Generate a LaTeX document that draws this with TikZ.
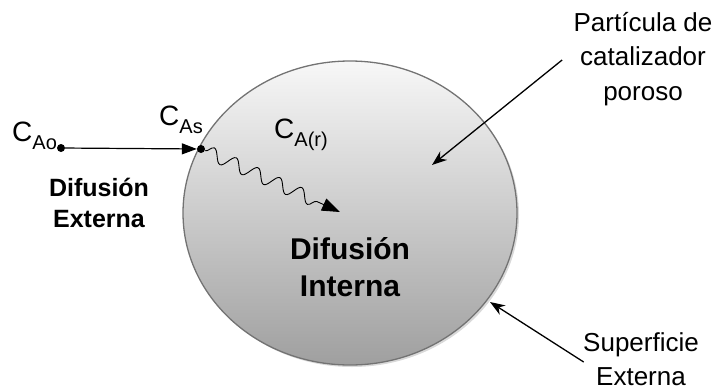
\documentclass[tikz,border=0pt]{standalone}
\usepackage{fontspec}
\setmainfont{Liberation Sans}
\usetikzlibrary{arrows.meta,calc,shapes.geometric,shadows,decorations.pathmorphing}
\tikzset{ptr/.style={-{Stealth[length=15pt,width=11pt]}, line width=1.3pt},
  flow/.style={-{Triangle[length=15pt,width=11pt]}, line width=1.2pt},
  wave/.style={-{Triangle[length=18pt,width=13pt]}, line width=0.9pt, decorate,
    decoration={snake, amplitude=6.5pt, segment length=24pt, post length=22pt}},
  lbl/.style={font=\fontsize{26}{34.5}\selectfont, align=center},
  bld/.style={font=\bfseries, align=center},
  conc/.style={font=\fontsize{28}{30}\selectfont, inner sep=0pt, anchor=base west},
  pt/.style={circle, fill, inner sep=0pt, minimum size=8pt}}
\newcommand{\csub}[1]{C\raisebox{-8pt}{\fontsize{20}{20}\selectfont #1}}

\begin{document}
\begin{tikzpicture}[x=1pt,y=-1pt]
  \useasboundingbox (0,0) rectangle (719,391);
  % catalyst particle
  \node[ellipse, draw=gray!90!black, line width=1.3pt, minimum width=334pt, minimum height=304pt,
    top color=gray!6, bottom color=gray!75,
    drop shadow={opacity=0.3, shadow xshift=2pt, shadow yshift=-2pt}] (part) at (350,213) {};
  % external diffusion
  \node[pt] (ao) at (61,148) {};
  \node[pt] (as) at (201,149) {};
  \draw[flow] (ao) -- (as);
  \node[conc] (lao) at (12,141) {\csub{Ao}};
  \node[conc] (las) at (159,125) {\csub{As}};
  \node[bld, font=\fontsize{25}{31}\selectfont\bfseries] (ext) at (99,203) {Difusión\\Externa};
  % internal diffusion
  \coordinate (tip) at (340,212);
  \draw[wave] (as) -- (tip);
  \node[conc] (lar) at (274,138) {\csub{A(r)}};
  \node[bld, font=\fontsize{30}{37}\selectfont\bfseries] (int) at (350,267) {Difusión\\Interna};
  % annotations
  \node[lbl] (lpart) at (643,59) {Partícula de\\catalizador\\poroso};
  \coordinate (ppart) at (432,165);
  \draw[ptr] ($(lpart.west)+(-8,1)$) -- (ppart);
  \node[lbl] (lsup) at (641,359) {Superficie\\Externa};
  \coordinate (psup) at (490,302);
  \draw[ptr] ($(lsup.west)+(4,3)$) -- (psup);
\end{tikzpicture}
\end{document}
